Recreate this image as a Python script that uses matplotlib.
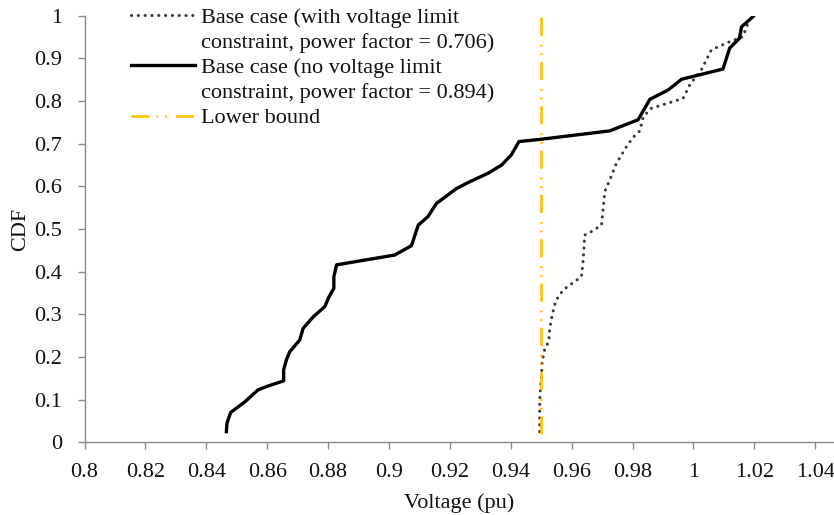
import matplotlib
matplotlib.use("Agg")
import matplotlib.pyplot as plt
from matplotlib.lines import Line2D
from matplotlib.ticker import FuncFormatter, MultipleLocator

plt.rcParams['font.family'] = ['Liberation Serif', 'DejaVu Serif']
plt.rcParams['lines.scale_dashes'] = False

# Series: no voltage limit constraint (solid)
v_nolimit = [0.8466, 0.8468, 0.8480, 0.8527, 0.8570, 0.8603, 0.8654, 0.8654, 0.8663,
             0.8674, 0.8707, 0.8718, 0.8751, 0.8789, 0.8803, 0.8819, 0.8819, 0.8828,
             0.9019, 0.9074, 0.9096, 0.9128, 0.9156, 0.9222, 0.9266, 0.9326, 0.9370,
             0.9402, 0.9427, 0.9495, 0.9725, 0.9818, 0.9857, 0.9917, 0.9961, 1.0097,
             1.0119, 1.0151, 1.0158, 1.0196]
cdf_nolimit = [0.025, 0.045, 0.070, 0.095, 0.123, 0.132, 0.144, 0.170, 0.193,
               0.212, 0.240, 0.267, 0.294, 0.318, 0.341, 0.361, 0.388, 0.416,
               0.439, 0.461, 0.509, 0.529, 0.560, 0.595, 0.611, 0.631, 0.650,
               0.674, 0.705, 0.710, 0.730, 0.756, 0.804, 0.826, 0.851, 0.875,
               0.924, 0.947, 0.974, 0.998]

# Series: with voltage limit constraint (dotted)
v_limit = [0.9495, 0.9495, 0.9497, 0.9501, 0.9503, 0.9512, 0.9525, 0.9528, 0.9536,
           0.9548, 0.9572, 0.9610, 0.9632, 0.9637, 0.9643, 0.9665, 0.9698, 0.9703,
           0.9709, 0.9725, 0.9747, 0.9780, 0.9802, 0.9824, 0.9835, 0.9862, 0.9966,
           0.9988, 1.0026, 1.0059, 1.0119, 1.0163, 1.0174, 1.0185]
cdf_limit = [0.025, 0.091, 0.123, 0.154, 0.189, 0.220, 0.236, 0.267, 0.298,
             0.332, 0.357, 0.377, 0.388, 0.420, 0.486, 0.494, 0.509, 0.545,
             0.588, 0.615, 0.654, 0.693, 0.715, 0.730, 0.763, 0.783, 0.806,
             0.838, 0.873, 0.920, 0.939, 0.951, 0.974, 0.990]

# Lower bound
lb_v = [0.95, 0.95]
lb_cdf = [0.02, 1.0]

labels = ["Base case (with voltage limit\nconstraint, power factor = 0.706)",
          "Base case (no voltage limit\nconstraint, power factor = 0.894)",
          "Lower bound"]

W, H = 834, 515
FS = 16
fig = plt.figure(figsize=(W / 100, H / 100), dpi=100)
ax = fig.add_axes([84.5 / W, (H - 442.3) / H, 749 / W, 426.6 / H])

axis_grey = '#898989'
dot_color = '#3a3a3a'
gold = '#FFC000'
txt = '#111111'
dot_style = (0, (0.1, 4.8))
lb_style = (0, (13, 5, 1.2, 5, 1.2, 6.5))

ax.plot(v_limit, cdf_limit, color=dot_color, lw=2.2, linestyle=dot_style,
        dash_capstyle='round', solid_capstyle='round')
ax.plot(v_nolimit, cdf_nolimit, color='black', lw=2.4, solid_joinstyle='round')
ax.plot(lb_v, lb_cdf, color=gold, lw=1.9, linestyle=lb_style)

ax.set_xlim(0.8, 1.046)
ax.set_ylim(0, 1)
ax.xaxis.set_major_locator(MultipleLocator(0.02))
ax.yaxis.set_major_locator(MultipleLocator(0.1))
fmt = FuncFormatter(lambda v, p: ('%.2f' % v).rstrip('0').rstrip('.'))
ax.xaxis.set_major_formatter(fmt)
ax.yaxis.set_major_formatter(fmt)

for s in ['top', 'right']:
    ax.spines[s].set_visible(False)
for s in ['left', 'bottom']:
    ax.spines[s].set_color(axis_grey)
    ax.spines[s].set_linewidth(1.0)
ax.tick_params(axis='both', direction='out', length=5, width=1.0, color=axis_grey,
               labelsize=FS, labelcolor=txt)
ax.tick_params(axis='y', pad=11)
ax.tick_params(axis='x', pad=10)

ax.set_xlabel('Voltage (pu)', fontsize=FS, color=txt, labelpad=8)
ax.set_ylabel('CDF', fontsize=FS, color=txt, labelpad=3)

# Legend: handles aligned with the first text line of each entry
blank = Line2D([], [], color='none')
h1 = Line2D([], [], color=dot_color, lw=2.2, linestyle=dot_style, dash_capstyle='round')
h2 = Line2D([], [], color='black', lw=2.4)
h3 = Line2D([], [], color=gold, lw=1.9, linestyle=lb_style)
l1a, l1b = labels[0].split('\n')
l2a, l2b = labels[1].split('\n')
leg = ax.legend([h1, blank, h2, blank, h3], [l1a, l1b, l2a, l2b, labels[2]],
                loc='upper left', bbox_to_anchor=(131 / W, (H - 7) / H),
                bbox_transform=fig.transFigure, frameon=False, fontsize=FS,
                handlelength=2.9, handletextpad=0.25, labelspacing=0.21,
                borderpad=0, borderaxespad=0)
for t in leg.get_texts():
    t.set_color(txt)

fig.savefig('out.png', dpi=100)
